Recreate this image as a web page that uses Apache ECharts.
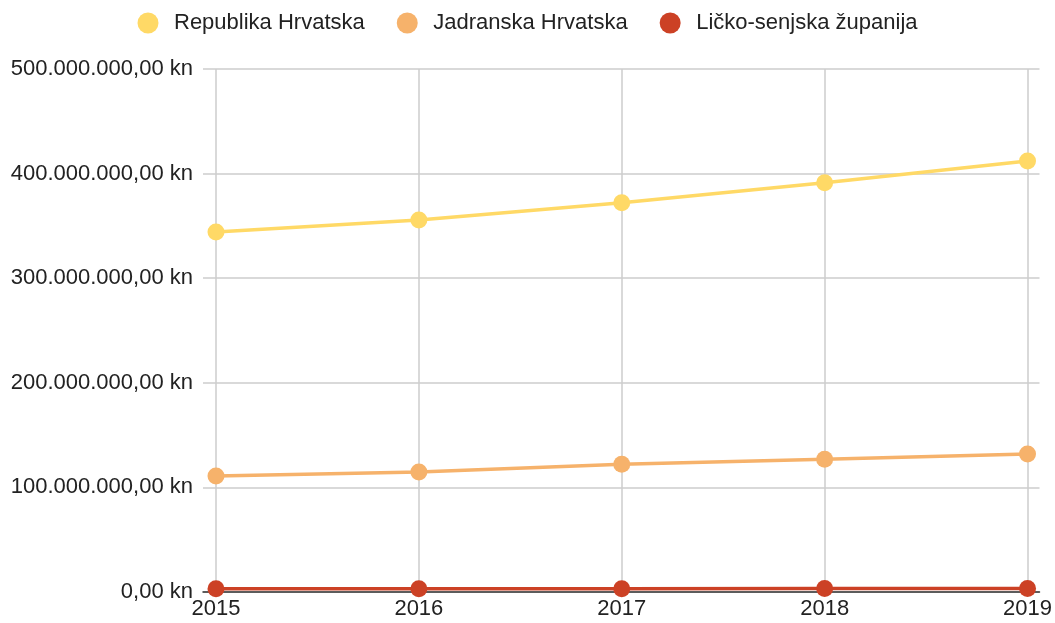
<!DOCTYPE html>
<html>
<head>
<meta charset="utf-8">
<script src="https://cdn.jsdelivr.net/npm/echarts@6/dist/echarts.min.js"></script>
<style>
    html, body { margin: 0; padding: 0; background: #fff; }
    #chart { width: 1055px; height: 623px; }
</style>
</head>
<body>
<div id="chart"></div>
<script>
    // godine i iznosi (kn)
    var years = [2015, 2016, 2017, 2018, 2019];
    var republika = [344200000, 355600000, 372200000, 391300000, 412000000];
    var jadranska = [110900000, 114700000, 122100000, 126900000, 131900000];
    var lickoSenjska = [3000000, 3100000, 3200000, 3300000, 3400000];
    var seriesNames = ['Republika Hrvatska', 'Jadranska Hrvatska', 'Ličko-senjska županija'];
    var colors = ['#ffd966', '#f6b26b', '#cc4125'];

    function kn(v) {
        var s = Math.round(v).toString().replace(/\B(?=(\d{3})+(?!\d))/g, '.');
        return s + ',00 kn';
    }

    function pairs(vals) {
        return years.map(function (y, i) { return [y, vals[i]]; });
    }

    var font = 'Arial, "Liberation Sans", sans-serif';

    function line(name, vals, color) {
        return {
            name: name,
            type: 'line',
            data: pairs(vals),
            color: color,
            symbol: 'circle',
            symbolSize: 17,
            lineStyle: { width: 3.5, color: color },
            itemStyle: { color: color },
            emphasis: { disabled: true },
            animation: false
        };
    }

    var option = {
        backgroundColor: '#fff',
        legend: {
            top: 7,
            left: 'center',
            icon: 'circle',
            itemWidth: 42,
            itemHeight: 21,
            itemGap: 32,
            textStyle: { fontFamily: font, fontSize: 22, color: '#222' },
            data: seriesNames
        },
        grid: { left: 203, right: 15, top: 69, bottom: 31 },
        xAxis: {
            type: 'value',
            min: 2014.936,
            max: 2019.059,
            axisLine: { show: true, onZero: false, lineStyle: { color: '#333', width: 1.5 } },
            axisTick: { show: false, customValues: years },
            axisLabel: {
                customValues: years,
                formatter: function (v) { return String(Math.round(v)); },
                fontFamily: font, fontSize: 22, color: '#222', margin: 6
            },
            splitLine: { show: true, lineStyle: { color: '#cccccc', width: 1.5 } }
        },
        yAxis: {
            type: 'value',
            min: 0,
            max: 500000000,
            interval: 100000000,
            axisLine: { show: false },
            axisTick: { show: false },
            axisLabel: {
                formatter: kn,
                fontFamily: font, fontSize: 22, color: '#222', margin: 10
            },
            splitLine: { lineStyle: { color: '#cccccc', width: 1.5 } }
        },
        series: [
            line(seriesNames[0], republika, colors[0]),
            line(seriesNames[1], jadranska, colors[1]),
            line(seriesNames[2], lickoSenjska, colors[2])
        ]
    };

    var chart = echarts.init(document.getElementById('chart'));
    chart.setOption(option);
</script>
</body>
</html>
